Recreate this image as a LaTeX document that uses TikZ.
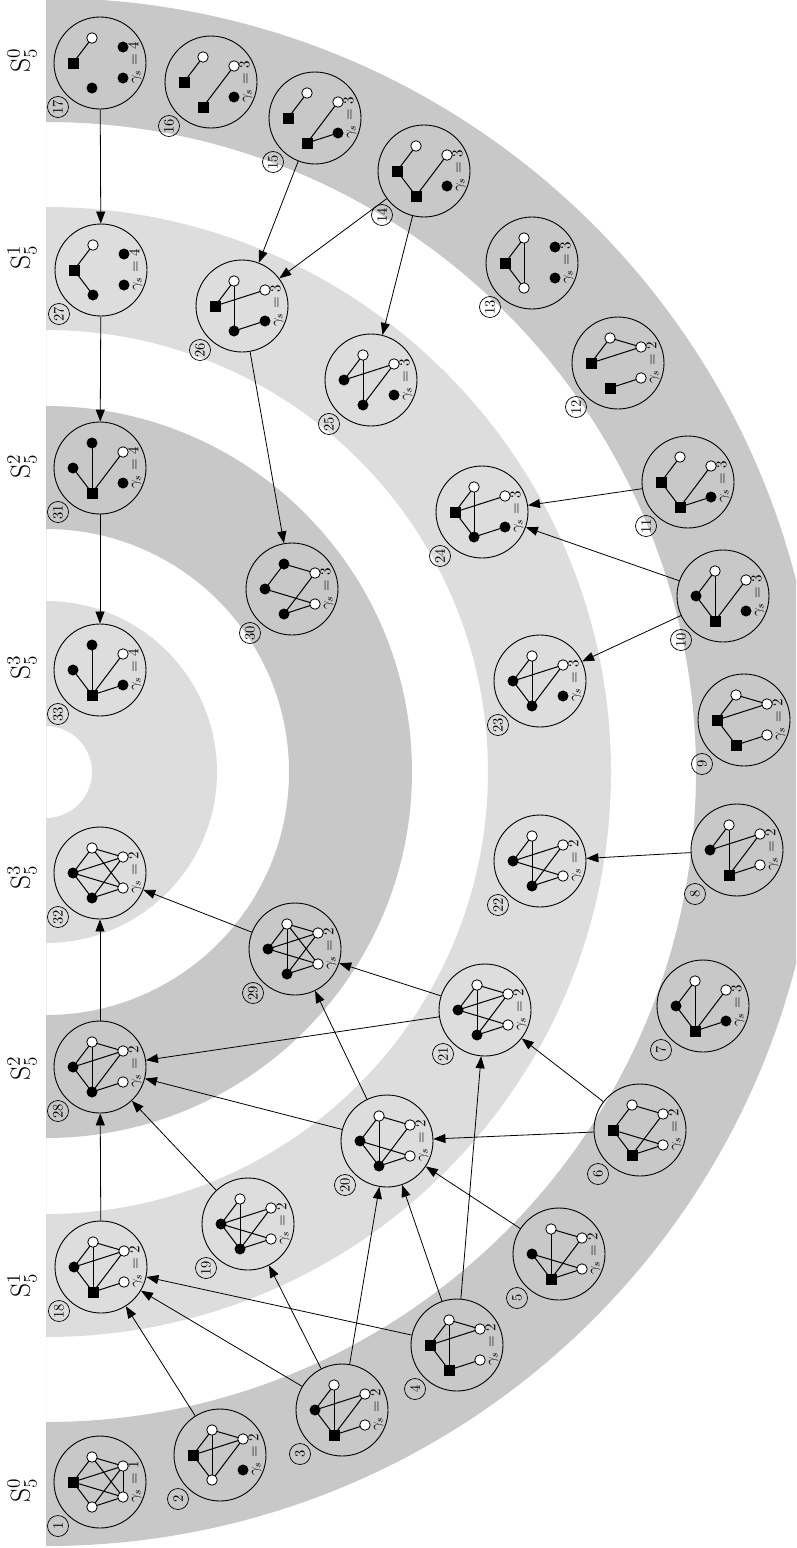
\documentclass[tikz,border=0pt]{standalone}
\usetikzlibrary{arrows.meta}
\definecolor{ringA}{RGB}{200,200,200}
\definecolor{ringB}{RGB}{221,221,221}
\tikzset{
 gcirc/.style={circle, draw, line width=0.9pt, minimum size=92pt, inner sep=0pt},
 vo/.style={circle, draw, line width=0.8pt, fill=white, minimum size=10.5pt, inner sep=0pt},
 vb/.style={circle, fill=black, minimum size=11pt, inner sep=0pt},
 vs/.style={rectangle, fill=black, minimum size=11pt, inner sep=0pt},
 vtype/.style={v#1},
 gedge/.style={line width=1pt},
 glab/.style={rotate=90, scale=1.5, inner sep=0pt},
 numlab/.style={rotate=90, circle, draw, line width=0.7pt, inner sep=0pt, minimum size=14.5pt, scale=1.45, font=\normalsize},
 arr/.style={line width=0.8pt, -{Triangle[length=12pt,width=9pt]}},
 slab/.style={rotate=90, scale=1.6, font=\LARGE},
}
\newcommand\G[6]{%
 \node[gcirc] (n#1) at (#2,#3) {};
 \begin{scope}[shift={(#2,#3)}]
  \coordinate (L) at (-27,0);
  \coordinate (T) at (-8,-25);
  \coordinate (RT) at (23,-16);
  \coordinate (RB) at (23,15);
  \coordinate (B) at (-8,25);
  \foreach \a/\b in {#6} {\draw[gedge] (\a) -- (\b);}
  \foreach \p/\t in {#5} {\node[vtype/.expanded=\t] at (\p) {};}
  \node[glab] at (35,0) {$\gamma_s = #4$};
  \node[numlab] at (-42,44) {#1};
 \end{scope}
}
\begin{document}
\begin{tikzpicture}[x=1pt,y=-1pt]
\useasboundingbox (0,0) rectangle (796,1548);
\begin{scope}
\clip (0,0) rectangle (796,1548);
\fill[ringA,even odd rule] (46,772) ++(-90:774) arc[start angle=-90,end angle=90,radius=774] -- cycle
  (46,772) ++(-90:650) arc[start angle=-90,end angle=90,radius=650] -- cycle;
\fill[ringB,even odd rule] (46,772) ++(-90:565) arc[start angle=-90,end angle=90,radius=565] -- cycle
  (46,772) ++(-90:442) arc[start angle=-90,end angle=90,radius=442] -- cycle;
\fill[ringA,even odd rule] (46,772) ++(-90:366) arc[start angle=-90,end angle=90,radius=366] -- cycle
  (46,772) ++(-90:243) arc[start angle=-90,end angle=90,radius=243] -- cycle;
\fill[ringB,even odd rule] (46,772) ++(-90:171) arc[start angle=-90,end angle=90,radius=171] -- cycle
  (46,772) ++(-90:46) arc[start angle=-90,end angle=90,radius=46] -- cycle;
\end{scope}
% level labels
\node[slab] (la) at (22,60) {$\mathrm{S}^0_5$};
\node[slab] (lb) at (22,257) {$\mathrm{S}^1_5$};
\node[slab] (lc) at (22,466) {$\mathrm{S}^2_5$};
\node[slab] (ld) at (22,667) {$\mathrm{S}^3_5$};
\node[slab] (le) at (22,877) {$\mathrm{S}^3_5$};
\node[slab] (lf) at (22,1068) {$\mathrm{S}^2_5$};
\node[slab] (lg) at (22,1285) {$\mathrm{S}^1_5$};
\node[slab] (lh) at (22,1490) {$\mathrm{S}^0_5$};
% ring 0
\G{1}{100}{1482}{1}{L/s,T/o,RT/o,RB/o,B/o}{L/T,L/RT,L/RB,L/B,T/RT,T/RB,B/RT,B/RB,RT/RB}
\G{2}{220}{1455}{2}{L/s,T/o,RT/o,RB/b,B/o}{L/T,L/RT,L/B,T/RT,T/B,B/RT}
\G{3}{342}{1410}{2}{L/b,T/o,RT/o,RB/o,B/s}{L/T,L/RT,L/B,T/B,B/RT,B/RB}
\G{4}{457}{1345}{2}{L/s,T/o,RT/o,RB/o,B/s}{L/T,T/RT,L/RT,L/B,T/B,B/RB}
\G{5}{559}{1254}{2}{L/b,T/o,RT/o,RB/o,B/s}{T/RT,T/B,L/B,L/RB,B/RT,B/RB}
\G{6}{640}{1130}{2}{L/s,T/o,RT/o,RB/o,B/s}{L/T,T/RT,L/B,L/RB,B/RT,B/RB}
\G{7}{703}{1006}{3}{L/b,T/o,RT/o,RB/b,B/s}{L/T,T/B,L/B,B/RT,B/RB}
\G{8}{737}{850}{2}{L/b,T/o,RT/o,RB/o,B/s}{L/T,L/RT,T/B,B/RT,B/RB}
\G{9}{744}{720}{2}{L/s,T/o,RT/o,RB/o,B/s}{L/T,T/RT,L/RT,L/B,B/RB}
\G{10}{723}{596}{3}{L/b,T/o,RT/o,RB/b,B/s}{L/T,T/B,L/B,B/RT}
\G{11}{688}{482}{3}{L/s,T/o,RT/o,RB/b,B/s}{L/T,L/B,B/RT,B/RB}
\G{12}{618}{363}{2}{L/s,T/o,RT/o,RB/o,B/s}{L/T,T/RT,L/RT,B/RB}
\G{13}{532}{263}{3}{L/s,T/o,RT/b,RB/b,B/o}{L/T,L/B,T/B}
\G{14}{424}{171}{3}{L/s,T/o,RT/o,RB/b,B/s}{L/T,L/B,B/RT}
\G{15}{315}{118}{3}{L/s,T/o,RT/o,RB/b,B/s}{L/T,B/RT,B/RB}
\G{16}{211}{82}{3}{L/s,T/o,RT/o,RB/b,B/s}{L/T,B/RT}
\G{17}{100}{63}{4}{L/s,T/o,RT/b,RB/b,B/b}{L/T}
% ring 1
\G{18}{101}{1267}{2}{L/b,T/o,RT/o,RB/o,B/s}{L/T,L/RT,T/RT,T/B,L/B,B/RT,B/RB}
\G{19}{248}{1224}{2}{L/b,T/o,RT/o,RB/o,B/b}{L/T,L/RT,T/B,L/B,L/RB,B/RT,B/RB}
\G{20}{387}{1141}{2}{L/b,T/o,RT/o,RB/o,B/b}{L/T,T/RT,T/B,L/B,L/RB,B/RT,B/RB}
\G{21}{485}{1010}{2}{L/b,T/o,RT/o,RB/o,B/b}{L/T,L/RT,L/RB,T/RT,T/B,B/RT,B/RB}
\G{22}{540}{861}{2}{L/b,T/o,RT/o,RB/o,B/b}{L/T,L/RT,T/B,L/RB,B/RT,B/RB}
\G{23}{540}{681}{3}{L/b,T/o,RT/o,RB/b,B/b}{L/T,L/RT,T/B,L/B,B/RT}
\G{24}{482}{512}{3}{L/s,T/o,RT/o,RB/b,B/b}{L/T,L/RT,T/B,L/B,B/RB}
\G{25}{371}{380}{3}{L/b,T/o,RT/o,RB/b,B/b}{L/T,L/RT,T/B,B/RT}
\G{26}{242}{306}{3}{L/s,T/o,RT/o,RB/b,B/b}{L/T,L/RT,T/B,B/RB}
\G{27}{101}{270}{4}{L/s,T/o,RT/b,RB/b,B/b}{L/T,L/B}
% ring 2
\G{28}{100}{1067}{2}{L/b,T/o,RT/o,RB/o,B/b}{L/T,L/RT,L/B,T/RT,T/B,B/RT,B/RB}
\G{29}{295}{949}{2}{L/b,T/o,RT/o,RB/o,B/b}{L/T,L/RT,L/RB,T/RT,T/B,T/RB,B/RT,B/RB}
\G{30}{292}{589}{3}{L/b,T/b,RT/o,RB/o,B/b}{L/T,T/RT,L/RB,B/RT,B/RB}
\G{31}{100}{468}{4}{L/b,T/b,RT/o,RB/b,B/s}{L/B,T/B,B/RT}
% ring 3
\G{32}{100}{873}{2}{L/b,T/o,RT/o,RB/o,B/b}{L/T,L/RT,L/RB,L/B,T/RT,T/RB,B/RT,B/RB}
\G{33}{100}{670}{4}{L/b,T/b,RT/o,RB/b,B/s}{L/B,T/B,B/RT,B/RB}
% arrows
\foreach \s/\t in {17/27,27/31,31/33,15/26,14/26,14/25,26/30,11/24,10/24,10/23,8/22,6/20,6/21,5/20,4/20,4/21,4/18,3/18,3/19,3/20,2/18,21/29,21/28,20/29,20/28,19/28,18/28,28/32,29/32}
  {\draw[arr] (n\s) -- (n\t);}
\end{tikzpicture}
\end{document}
